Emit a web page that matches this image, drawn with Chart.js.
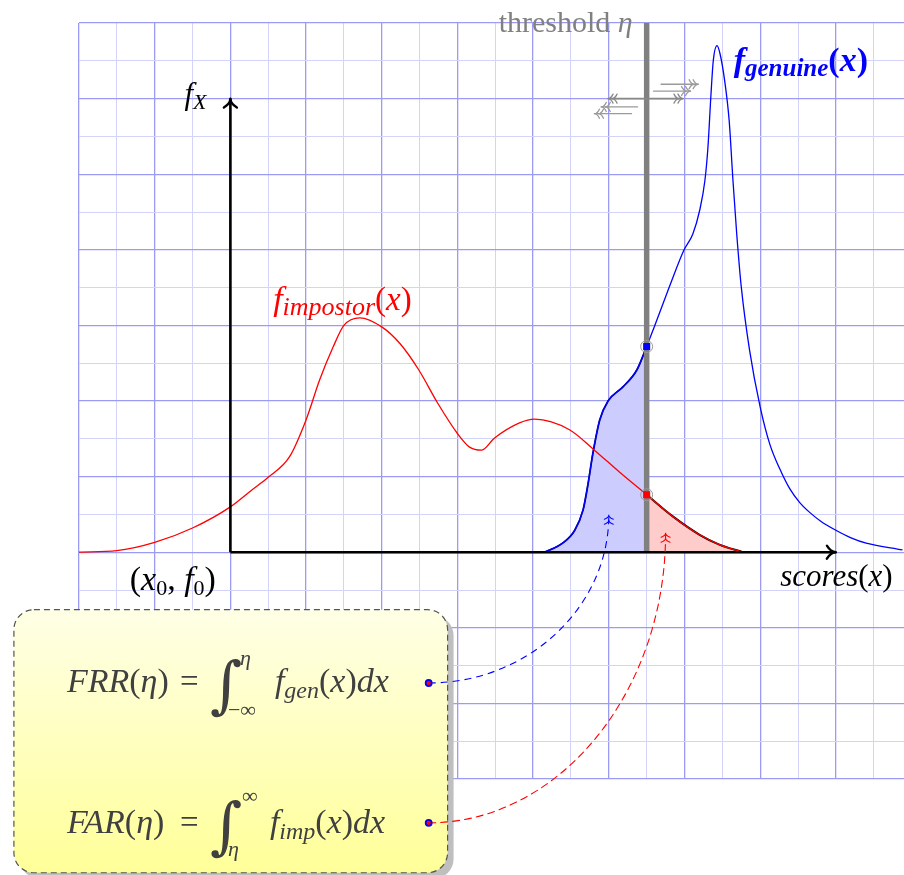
<!DOCTYPE html>
<html>
<head>
<meta charset="utf-8">
<script src="https://cdn.jsdelivr.net/npm/chart.js@4/dist/chart.umd.min.js"></script>
<style>html,body{margin:0;padding:0;background:#fff}canvas{display:block}</style>
</head>
<body>
<canvas id="c" width="904" height="875"></canvas>
<script>
// Score samples and density heights of the two class-conditional distributions
const impostorX = [-2, -1.5, -1, -0.5, 0, 0.28, 0.5, 0.78, 1.0, 1.18, 1.36, 1.5, 1.71, 2.0, 2.24, 2.49, 2.74, 3.0, 3.16, 3.32, 3.49, 3.82, 4.02, 4.48, 4.81, 5.14, 5.5, 5.85, 6.2, 6.46, 6.77];
const impostorY = [0, 0.02, 0.13, 0.32, 0.60, 0.82, 0.99, 1.26, 1.75, 2.28, 2.72, 3.0, 3.1, 2.98, 2.76, 2.41, 1.97, 1.57, 1.39, 1.35, 1.51, 1.71, 1.76, 1.62, 1.35, 1.06, 0.76, 0.47, 0.23, 0.10, 0];
const genuineX = [4.15, 4.39, 4.55, 4.66, 4.72, 4.79, 4.88, 4.99, 5.19, 5.37, 5.5, 5.6, 5.8, 5.99, 6.11, 6.2, 6.27, 6.31, 6.35, 6.38, 6.43, 6.47, 6.53, 6.59, 6.64, 6.69, 6.75, 6.86, 7.0, 7.13, 7.26, 7.39, 7.52, 7.65, 7.8, 8.0, 8.2, 8.4, 8.88];
const genuineY = [0, 0.12, 0.29, 0.56, 0.87, 1.31, 1.75, 2.0, 2.19, 2.41, 2.72, 2.98, 3.51, 3.99, 4.21, 4.52, 4.92, 5.36, 6.06, 6.5, 6.7, 6.59, 6.24, 5.71, 4.92, 4.21, 3.51, 2.67, 1.92, 1.42, 1.10, 0.84, 0.66, 0.53, 0.41, 0.29, 0.19, 0.12, 0.03];

// Decision threshold and axis arrow lengths
const eta = 5.5;
const xAxisEnd = 8;
const yAxisEnd = 6;

// Window of the grid
const xRange = [-2, 8.9];
const yRange = [-3, 7];

const SERIF = "'Liberation Serif', 'Times New Roman', serif";
const SYMBOL = "'DejaVu Serif', serif";
const pts = (xs, ys) => xs.map((x, i) => ({x, y: ys[i]}));
const genAtEta = genuineY[genuineX.indexOf(eta)];
const impAtEta = impostorY[impostorX.indexOf(eta)];
const genFill = pts(genuineX, genuineY).filter(p => p.x <= eta);
const impFill = pts(impostorX, impostorY).filter(p => p.x >= eta);

// ---------- drawing helpers ----------
function fontOf(st, size, fam) {
  const it = st.includes('i') ? 'italic ' : '';
  const bd = st.includes('b') ? 'bold ' : '';
  return `${it}${bd}${size}px ${fam || SERIF}`;
}
// parts: [text, style, size, dy, family]
function mathText(ctx, x, base, parts, align) {
  let w = 0;
  for (const p of parts) { ctx.font = fontOf(p[1], p[2], p[4]); w += ctx.measureText(p[0]).width; }
  let cx = align === 'right' ? x - w : align === 'center' ? x - w / 2 : x;
  ctx.textBaseline = 'alphabetic';
  ctx.textAlign = 'left';
  for (const p of parts) {
    ctx.font = fontOf(p[1], p[2], p[4]);
    ctx.fillText(p[0], cx, base + (p[3] || 0));
    cx += ctx.measureText(p[0]).width;
  }
}
// curved open arrow tip pointing along angle ang
function tip(ctx, tx, ty, ang, len, half) {
  const c = Math.cos(ang), s = Math.sin(ang);
  const P = (a, b) => [tx + a * c - b * s, ty + a * s + b * c];
  ctx.beginPath();
  let p = P(-len, -half), q = P(-len * 0.55, 0), t = P(0, 0);
  ctx.moveTo(p[0], p[1]); ctx.quadraticCurveTo(q[0], q[1], t[0], t[1]);
  p = P(-len, half);
  ctx.moveTo(p[0], p[1]); ctx.quadraticCurveTo(q[0], q[1], t[0], t[1]);
  ctx.stroke();
}
function doubleTip(ctx, tx, ty, ang, len, half, gap) {
  tip(ctx, tx, ty, ang, len, half);
  tip(ctx, tx - gap * Math.cos(ang), ty - gap * Math.sin(ang), ang, len, half);
}
function roundRectPath(ctx, x, y, w, h, r) {
  ctx.beginPath();
  ctx.moveTo(x + r, y);
  ctx.lineTo(x + w - r, y); ctx.arcTo(x + w, y, x + w, y + r, r);
  ctx.lineTo(x + w, y + h - r); ctx.arcTo(x + w, y + h, x + w - r, y + h, r);
  ctx.lineTo(x + r, y + h); ctx.arcTo(x, y + h, x, y + h - r, r);
  ctx.lineTo(x, y + r); ctx.arcTo(x, y, x + r, y, r);
  ctx.closePath();
}

// Annotation anchors in data units
const boxCorners = {x0: -2.86, y0: -0.76, x1: 2.87, y1: -4.24};
const frrLink = {from: [2.62, -1.73], to: [5.0, 0.49], color: '#0000ff'};
const farLink = {from: [2.62, -3.58], to: [5.75, 0.25], color: '#ff0000'};
// little "moving threshold" arrows: [x start, x end, y]
const leftArrows = [[5.38, 4.90, 5.89], [5.30, 4.81, 5.80]];
const rightArrows = [[5.69, 6.18, 6.19], [5.59, 6.08, 6.10]];
const spanArrow = [4.99, 5.98, 6.0];

const overlay = {
  id: 'overlay',
  afterDraw(chart) {
    const {ctx} = chart;
    const sx = chart.scales.x, sy = chart.scales.y;
    const px = v => sx.getPixelForValue(v), py = v => sy.getPixelForValue(v);
    ctx.save();
    ctx.lineCap = 'round';
    ctx.lineJoin = 'round';

    // axis arrow tips
    ctx.strokeStyle = '#000';
    ctx.lineWidth = 2.4;
    tip(ctx, px(xAxisEnd), py(0), 0, 9, 6.5);
    tip(ctx, px(0), py(yAxisEnd), -Math.PI / 2, 9, 6.5);

    // threshold shift arrows
    ctx.lineWidth = 1.3;
    ctx.strokeStyle = '#9a9a9a';
    for (const [a, b, yv] of leftArrows) {
      ctx.beginPath(); ctx.moveTo(px(a), py(yv)); ctx.lineTo(px(b), py(yv)); ctx.stroke();
      doubleTip(ctx, px(b), py(yv), Math.PI, 5, 4.5, 4);
    }
    for (const [a, b, yv] of rightArrows) {
      ctx.beginPath(); ctx.moveTo(px(a), py(yv)); ctx.lineTo(px(b), py(yv)); ctx.stroke();
      doubleTip(ctx, px(b), py(yv), 0, 5, 4.5, 4);
    }
    ctx.strokeStyle = '#888';
    ctx.lineWidth = 1.6;
    ctx.beginPath(); ctx.moveTo(px(spanArrow[0]), py(spanArrow[2])); ctx.lineTo(px(spanArrow[1]), py(spanArrow[2])); ctx.stroke();
    ctx.lineWidth = 1.3;
    doubleTip(ctx, px(spanArrow[0]), py(spanArrow[2]), Math.PI, 5, 4.5, 4);
    doubleTip(ctx, px(spanArrow[1]), py(spanArrow[2]), 0, 5, 4.5, 4);

    // labels
    ctx.fillStyle = '#808080';
    mathText(ctx, px(eta) - 14, py(yRange[1]) + 9, [['threshold ', 'r', 30], ['η', 'i', 30]], 'right');
    ctx.fillStyle = '#000';
    mathText(ctx, px(0) - 46, py(yAxisEnd) + 5, [['f', 'i', 31], ['X', 'i', 22, 5]], 'left');
    mathText(ctx, px(-0.76), py(-0.5), [['(', 'r', 34], ['x', 'i', 34], ['0', 'r', 22, 5], [', ', 'r', 34], ['f', 'i', 34], ['0', 'r', 22, 5], [')', 'r', 34]], 'center');
    mathText(ctx, px(8.75), py(-0.45), [['scores', 'i', 31], ['(', 'r', 31], ['x', 'i', 31], [')', 'r', 31]], 'right');
    ctx.fillStyle = '#ff0000';
    mathText(ctx, px(1.48), py(3.2), [['f', 'i', 34], ['impostor', 'i', 26, 5], ['(', 'r', 33], ['x', 'i', 33], [')', 'r', 33]], 'center');
    ctx.fillStyle = '#0000ff';
    mathText(ctx, px(6.65), py(6.37), [['f', 'ib', 34], ['genuine', 'ib', 25, 5], ['(', 'b', 34], ['x', 'ib', 34], [')', 'b', 34]], 'left');

    // formula box
    const bx = px(boxCorners.x0), by = py(boxCorners.y0);
    const bw = px(boxCorners.x1) - bx, bh = py(boxCorners.y1) - by;
    ctx.fillStyle = '#bfbfbf';
    roundRectPath(ctx, bx + 6, by + 6, bw, bh, 20); ctx.fill();
    const g = ctx.createLinearGradient(0, by, 0, by + bh);
    g.addColorStop(0, '#ffffe6'); g.addColorStop(1, '#ffff99');
    ctx.fillStyle = g;
    roundRectPath(ctx, bx, by, bw, bh, 20); ctx.fill();
    ctx.setLineDash([6, 4]);
    ctx.lineCap = 'butt';
    ctx.strokeStyle = '#555';
    ctx.lineWidth = 1.2;
    ctx.stroke();
    ctx.setLineDash([]);

    // formulas
    ctx.fillStyle = '#404040';
    const b1 = by + 82, b2 = by + 223;
    const L = bx + 53;
    mathText(ctx, L, b1, [['FRR', 'i', 34], ['(', 'r', 34], ['η', 'i', 34], [')', 'r', 34]], 'left');
    mathText(ctx, L, b2, [['FAR', 'i', 34], ['(', 'r', 34], ['η', 'i', 34], [')', 'r', 34]], 'left');
    mathText(ctx, bx + 166, b1, [['=', 'r', 33]], 'left');
    mathText(ctx, bx + 166, b2, [['=', 'r', 33]], 'left');
    mathText(ctx, bx + 196, b1 + 14, [['∫', 'r', 62, 0, SYMBOL]], 'left');
    mathText(ctx, bx + 196, b2 + 14, [['∫', 'r', 62, 0, SYMBOL]], 'left');
    mathText(ctx, bx + 226, b1 - 27, [['η', 'i', 22]], 'left');
    mathText(ctx, bx + 214, b1 + 25, [['−∞', 'r', 22]], 'left');
    mathText(ctx, bx + 228, b2 - 30, [['∞', 'r', 22]], 'left');
    mathText(ctx, bx + 214, b2 + 23, [['η', 'i', 22]], 'left');
    mathText(ctx, bx + 261, b1, [['f', 'i', 34], ['gen', 'i', 24, 6], ['(', 'r', 34], ['x', 'i', 34], [')', 'r', 34], ['dx', 'i', 34]], 'left');
    mathText(ctx, bx + 256, b2, [['f', 'i', 34], ['imp', 'i', 24, 6], ['(', 'r', 34], ['x', 'i', 34], [')', 'r', 34], ['dx', 'i', 34]], 'left');

    // dashed links from the formulas to the shaded areas
    for (const link of [frrLink, farLink]) {
      const fx = px(link.from[0]), fy = py(link.from[1]);
      const tx = px(link.to[0]), ty = py(link.to[1]);
      const k = 0.55;
      ctx.strokeStyle = link.color;
      ctx.lineWidth = 1.1;
      ctx.setLineDash([7, 5]);
      ctx.beginPath();
      ctx.moveTo(fx, fy);
      ctx.bezierCurveTo(fx + k * (tx - fx), fy, tx, ty + k * (fy - ty), tx, ty);
      ctx.stroke();
      ctx.setLineDash([]);
      ctx.lineCap = 'round';
      doubleTip(ctx, tx, ty, -Math.PI / 2, 4, 4.5, 5);
      ctx.beginPath();
      ctx.arc(fx, fy, 3, 0, Math.PI * 2);
      ctx.fillStyle = '#ff0000';
      ctx.fill();
      ctx.strokeStyle = '#0000ff';
      ctx.lineWidth = 1.8;
      ctx.stroke();
    }
    ctx.restore();
  }
};

const lineDs = (data, color, width, order, extra) => Object.assign({
  data, showLine: true, borderColor: color, borderWidth: width, pointRadius: 0, fill: false, order
}, extra || {});

const gridOpts = {
  drawTicks: false,
  color: c => Number.isInteger(c.tick.value) ? 'rgb(155,155,243)' : 'rgb(212,212,250)',
  lineWidth: c => Number.isInteger(c.tick.value) ? 1.3 : 1
};

new Chart(document.getElementById('c'), {
  type: 'scatter',
  data: {
    datasets: [
      {data: [{x: eta, y: genAtEta}], pointStyle: 'rect', pointRadius: 5, backgroundColor: '#0000ff', borderWidth: 0, order: 0},
      {data: [{x: eta, y: impAtEta}], pointStyle: 'rect', pointRadius: 5, backgroundColor: '#ff0000', borderWidth: 0, order: 0},
      {data: [{x: eta, y: genAtEta}, {x: eta, y: impAtEta}], pointStyle: 'circle', pointRadius: 6, backgroundColor: 'rgba(0,0,0,0)', borderColor: '#9a9a9a', borderWidth: 1, order: 1},
      lineDs([{x: 0, y: 0}, {x: xAxisEnd, y: 0}], '#000', 2.6, 2),
      lineDs([{x: 0, y: 0}, {x: 0, y: yAxisEnd}], '#000', 2.6, 2),
      lineDs([{x: eta, y: 0}, {x: eta, y: yRange[1]}], '#808080', 5.5, 3),
      lineDs(pts(impostorX, impostorY), '#ff0000', 1.3, 4, {cubicInterpolationMode: 'monotone'}),
      lineDs(pts(genuineX, genuineY), '#0000ff', 1.3, 5, {cubicInterpolationMode: 'monotone'}),
      lineDs(impFill, '#000', 2, 6, {cubicInterpolationMode: 'monotone', fill: 'origin', backgroundColor: '#ffcccc'}),
      lineDs(genFill, '#000080', 1.8, 7, {cubicInterpolationMode: 'monotone', fill: 'origin', backgroundColor: '#ccccff'})
    ]
  },
  options: {
    responsive: false,
    animation: false,
    events: [],
    layout: {autoPadding: false, padding: {left: 79, top: 23, right: 0, bottom: 96}},
    plugins: {legend: {display: false}, tooltip: {enabled: false}},
    scales: {
      x: {
        type: 'linear', min: xRange[0], max: xRange[1],
        afterFit: s => { s.height = 0; s.paddingLeft = 0; s.paddingRight = 0; },
        ticks: {display: false, stepSize: 0.5, maxTicksLimit: 1000, includeBounds: false},
        border: {display: false},
        grid: gridOpts
      },
      y: {
        type: 'linear', min: yRange[0], max: yRange[1],
        afterFit: s => { s.width = 0; s.paddingTop = 0; s.paddingBottom = 0; },
        ticks: {display: false, stepSize: 0.5, maxTicksLimit: 1000, includeBounds: false},
        border: {display: false},
        grid: gridOpts
      }
    }
  },
  plugins: [overlay]
});
</script>
</body>
</html>
